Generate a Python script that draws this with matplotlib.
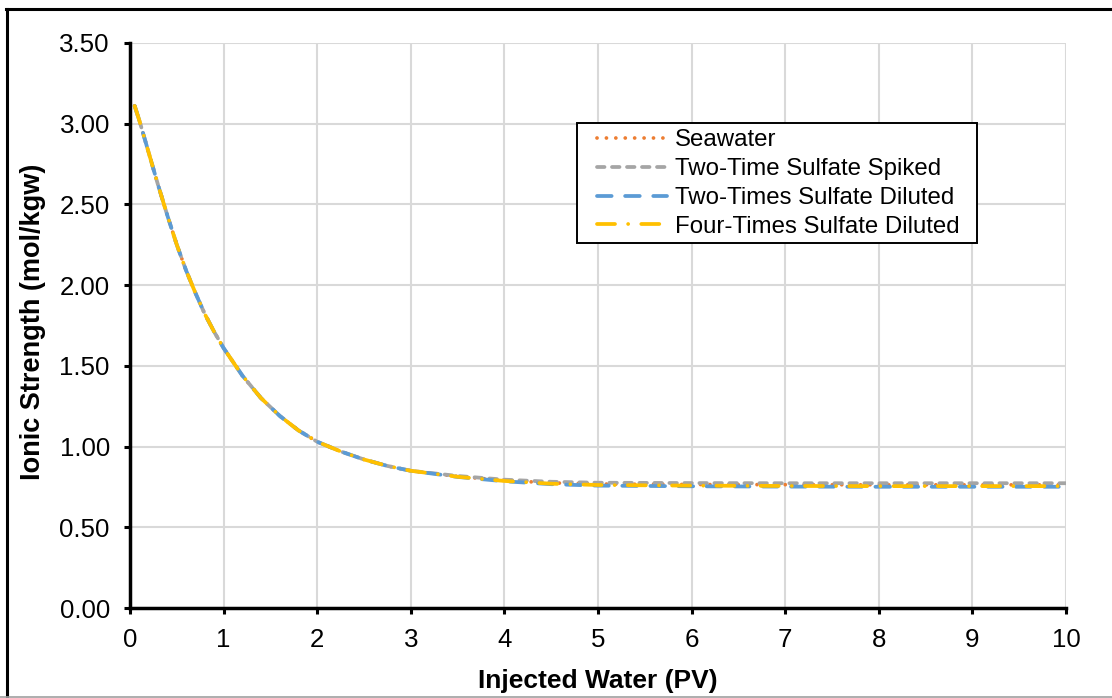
import matplotlib
matplotlib.use("Agg")
import matplotlib.pyplot as plt
from matplotlib.lines import Line2D
from matplotlib.patches import Rectangle

plt.rcParams['font.family'] = ['Liberation Sans', 'DejaVu Sans']

# injected water (PV)
pv = [0.05, 0.1, 0.2, 0.3, 0.4, 0.5, 0.6, 0.7, 0.8, 0.9, 1.0, 1.2, 1.4, 1.6, 1.8,
      2.0, 2.25, 2.5, 2.75, 3.0, 3.5, 4.0, 4.5, 5.0, 6.0, 7.0, 8.0, 9.0, 10.0]

# ionic strength (mol/kgw)
seawater = [3.11, 3.02, 2.82, 2.62, 2.43, 2.25, 2.09, 1.95, 1.82, 1.71, 1.61, 1.44, 1.30, 1.19, 1.10,
            1.03, 0.97, 0.92, 0.88, 0.85, 0.815, 0.790, 0.775, 0.768, 0.765, 0.764, 0.763, 0.763, 0.763]
spiked = [3.11, 3.02, 2.82, 2.62, 2.43, 2.25, 2.09, 1.95, 1.82, 1.71, 1.61, 1.44, 1.30, 1.19, 1.10,
          1.03, 0.97, 0.92, 0.88, 0.85, 0.818, 0.795, 0.782, 0.776, 0.774, 0.773, 0.773, 0.773, 0.773]
diluted2 = [3.11, 3.02, 2.82, 2.62, 2.43, 2.25, 2.09, 1.95, 1.82, 1.71, 1.61, 1.44, 1.30, 1.19, 1.10,
            1.03, 0.97, 0.92, 0.88, 0.85, 0.812, 0.785, 0.767, 0.758, 0.754, 0.752, 0.751, 0.751, 0.751]
diluted4 = [3.11, 3.02, 2.82, 2.62, 2.43, 2.25, 2.09, 1.95, 1.82, 1.71, 1.61, 1.44, 1.30, 1.19, 1.10,
            1.03, 0.97, 0.92, 0.88, 0.85, 0.813, 0.787, 0.770, 0.762, 0.758, 0.756, 0.755, 0.755, 0.755]

labels = ['Seawater', 'Two-Time Sulfate Spiked', 'Two-Times Sulfate Diluted', 'Four-Times Sulfate Diluted']

W, H = 1112, 698
fig = plt.figure(figsize=(W / 100, H / 100), dpi=100)
ax = fig.add_axes([130 / W, 1 - 608 / H, 936 / W, 565 / H])

lw = 2.7
ax.plot(pv, seawater, color='#ED7D31', lw=lw, linestyle=(0, (0.01, 2.5)),
        dash_capstyle='round', label=labels[0], zorder=3)
ax.plot(pv, spiked, color='#A5A5A5', lw=lw, linestyle=(0, (2.0, 2.0)),
        dash_capstyle='round', label=labels[1], zorder=3)
ax.plot(pv, diluted2, color='#5B9BD5', lw=lw, linestyle=(0, (3.9, 3.6)),
        dash_capstyle='round', label=labels[2], zorder=3)
ax.plot(pv, diluted4, color='#FFC000', lw=lw, linestyle=(0, (4.8, 3.5, 0.01, 3.5)),
        dash_capstyle='round', label=labels[3], zorder=3)

ax.set_xlim(0, 10)
ax.set_ylim(0, 3.5)
ax.set_xticks(range(0, 11))
ax.set_yticks([i * 0.5 for i in range(8)])
ax.set_yticklabels([f"{i * 0.5:.2f}" for i in range(8)])
ax.grid(True, color='#D9D9D9', lw=1.5, zorder=0)
ax.set_axisbelow(True)

for s in ['top', 'right']:
    ax.spines[s].set_visible(False)
for s in ['left', 'bottom']:
    ax.spines[s].set_linewidth(2.5)
    ax.spines[s].set_zorder(4)
ax.tick_params(axis='both', length=4.5, width=2.2, labelsize=18.6, direction='out')
ax.tick_params(axis='y', pad=10)
ax.tick_params(axis='x', pad=10)

fig.text(598 / W, 1 - 681 / H, 'Injected Water (PV)', ha='center', va='center',
         fontsize=19, fontweight='bold')
fig.text(33 / W, 1 - 322 / H, 'Ionic Strength (mol/kgw)', ha='center', va='center',
         rotation=90, fontsize=19.5, fontweight='bold')

# legend box (frame drawn separately to get Excel-like padding)
leg = ax.legend(loc='upper left', bbox_to_anchor=((597 - 130) / 936, (608 - 129) / 565),
                borderaxespad=0, fontsize=17.3, frameon=False,
                handlelength=2.9, handletextpad=0.33, labelspacing=0.29, borderpad=0)
leg.set_zorder(6)
ax.add_patch(Rectangle(((577 - 130) / 936, (608 - 243) / 565), 400 / 936, 120 / 565,
                       transform=ax.transAxes, facecolor='white', edgecolor='black',
                       lw=1.4, zorder=5))

# outer frame of the chart area
fig.add_artist(Line2D([6.5 / W, 6.5 / W], [0, 1 - 9 / H], color='black', lw=2.2))
fig.add_artist(Line2D([5.5 / W, 1], [1 - 9 / H, 1 - 9 / H], color='black', lw=2.2))
fig.add_artist(Line2D([0, 1], [1.5 / H, 1.5 / H], color='#A0A0A0', lw=1.2))

fig.savefig('out.png', dpi=100)
